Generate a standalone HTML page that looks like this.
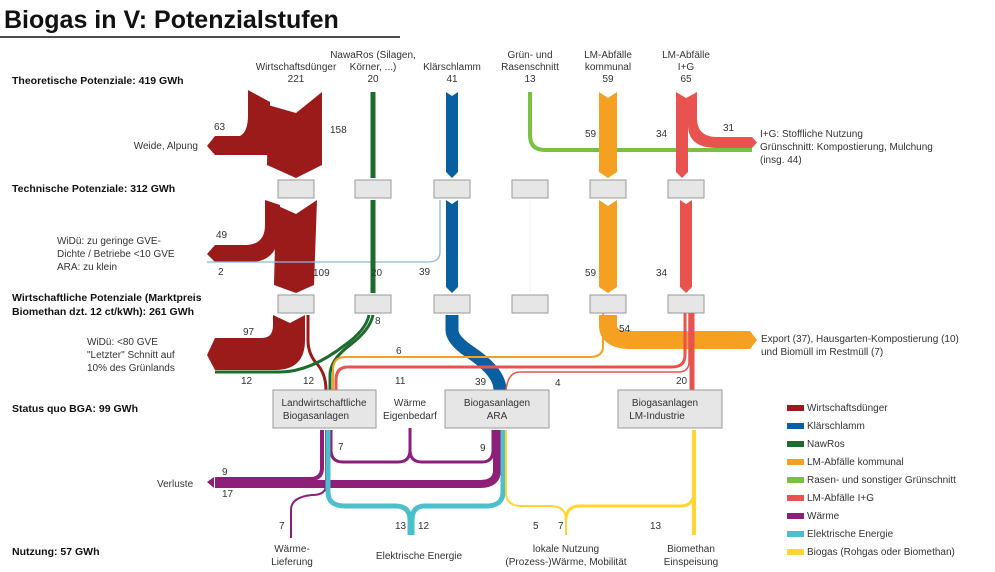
<!DOCTYPE html>
<html><head><meta charset="utf-8"><style>
body{margin:0;background:#fff;}
svg{display:block;font-family:"Liberation Sans",sans-serif;}
.t{font-size:10px;fill:#333;}
.b{font-size:10.5px;font-weight:bold;fill:#111;}
.box{fill:#e6e6e6;stroke:#999;stroke-width:1;}
.f{fill:none;stroke-linecap:butt;}
</style></head><body>
<svg width="995" height="572" viewBox="0 0 995 572" xmlns="http://www.w3.org/2000/svg">
<text x="4" y="28" style="font-size:25px;font-weight:bold;fill:#111">Biogas in V: Potenzialstufen</text>
<line x1="0" y1="37" x2="400" y2="37" stroke="#111" stroke-width="1.5"/>

<text class="b" x="12" y="84">Theoretische Potenziale: 419 GWh</text>
<text class="b" x="12" y="192">Technische Potenziale: 312 GWh</text>
<text class="b" x="12" y="301">Wirtschaftliche Potenziale (Marktpreis</text>
<text class="b" x="12" y="315">Biomethan dzt. 12 ct/kWh): 261 GWh</text>
<text class="b" x="12" y="412">Status quo BGA: 99 GWh</text>
<text class="b" x="12" y="555">Nutzung: 57 GWh</text>

<g class="t" text-anchor="middle">
<text x="296" y="70">Wirtschaftsdünger</text><text x="296" y="82">221</text>
<text x="373" y="58">NawaRos (Silagen,</text><text x="373" y="70">Körner, ...)</text><text x="373" y="82">20</text>
<text x="452" y="70">Klärschlamm</text><text x="452" y="82">41</text>
<text x="530" y="58">Grün- und</text><text x="530" y="70">Rasenschnitt</text><text x="530" y="82">13</text>
<text x="608" y="58">LM-Abfälle</text><text x="608" y="70">kommunal</text><text x="608" y="82">59</text>
<text x="686" y="58">LM-Abfälle</text><text x="686" y="70">I+G</text><text x="686" y="82">65</text>
</g>

<path d="M248 90 L270 102 L270 155 L215 155 L207 146 L215 136 L240 136 Q248 132 248 115 Z" fill="#9b1b1b"/>
<path d="M268 105 L296 113 L322 92 L322 165 L296 178 L267 165 Z" fill="#9b1b1b"/>
<path d="M373 92 V178" class="f" stroke="#1e6b2e" stroke-width="5"/>
<path d="M446 92 L452 96 L458 92 V172 L452 178 L446 172 Z" fill="#0a5fa0"/>
<path d="M530 92 V135 Q530 150 545 150 H752" class="f" stroke="#7ac143" stroke-width="4"/>
<path d="M599 92 L608 98 L617 92 V172 L608 178 L599 172 Z" fill="#f5a020"/>
<path d="M676 92 L686 98 L688 97 V172 L682 178 L676 172 Z" fill="#e8534f"/>
<path d="M688 97 L697 92 V118 Q697 137 717 137 H752 L757 142.5 L752 148 H717 Q688 148 688 125 Z" fill="#e8534f"/>

<g class="box">
<rect x="278" y="180" width="36" height="18"/><rect x="355" y="180" width="36" height="18"/><rect x="434" y="180" width="36" height="18"/><rect x="512" y="180" width="36" height="18"/><rect x="590" y="180" width="36" height="18"/><rect x="668" y="180" width="36" height="18"/>
<rect x="278" y="295" width="36" height="18"/><rect x="355" y="295" width="36" height="18"/><rect x="434" y="295" width="36" height="18"/><rect x="512" y="295" width="36" height="18"/><rect x="590" y="295" width="36" height="18"/><rect x="668" y="295" width="36" height="18"/>
</g>

<path d="M265 200 L280 205 L280 230 Q278 262 250 262 L215 262 L207 254 L215 245 L245 245 Q265 245 265 225 Z" fill="#9b1b1b"/>
<path d="M276 205 L296 214 L317 200 L314 285 L296 293 L274 285 Z" fill="#9b1b1b"/>
<path d="M440 200 V252 Q440 262 428 262 H207" class="f" stroke="#8fb9d4" stroke-width="1.3"/>
<path d="M373 200 V293" class="f" stroke="#1e6b2e" stroke-width="5"/>
<path d="M446 200 L452 204 L458 200 V287 L452 293 L446 287 Z" fill="#0a5fa0"/>
<path d="M530 200 V293" class="f" stroke="#f2f2f2" stroke-width="1"/>
<path d="M599 200 L608 206 L617 200 V287 L608 293 L599 287 Z" fill="#f5a020"/>
<path d="M680 200 L686 204 L692 200 V287 L686 293 L680 287 Z" fill="#e8534f"/>

<path d="M273 315 L290 323 L305 315 V340 Q305 370 275 370 L215 370 L207 355 L215 338 L262 338 Q273 338 273 325 Z" fill="#9b1b1b"/>
<path d="M308 315 V340 Q308 355 318 365 Q326 375 326 390" class="f" stroke="#9b1b1b" stroke-width="3"/>
<path d="M369 315 Q366 330 345 345 Q310 372 280 372 H215" class="f" stroke="#1e6b2e" stroke-width="3"/>
<path d="M373 315 Q370 330 350 345 Q330 360 330 375 V390" class="f" stroke="#1e6b2e" stroke-width="3"/>
<path d="M452 315 V330 Q452 340 470 352 Q500 372 500 390" class="f" stroke="#0a5fa0" stroke-width="13"/>
<path d="M603 313 V346 Q603 357 590 357 H345 Q333 357 333 370 V390" class="f" stroke="#f5a020" stroke-width="2"/>
<path d="M608 315 V325 Q608 340 630 340 H750" class="f" stroke="#f5a020" stroke-width="18"/>
<path d="M750 331 L757 340 L750 349 Z" fill="#f5a020"/>
<path d="M685 313 V355 Q685 367 672 367 H348 Q336 367 336 380 V390" class="f" stroke="#e8534f" stroke-width="3"/>
<path d="M689 313 V362 Q689 372 678 372 H520 Q508 372 506 390" class="f" stroke="#e8534f" stroke-width="1.5"/>
<path d="M692 313 V392" class="f" stroke="#e8534f" stroke-width="5"/>

<g class="box">
<rect x="273" y="390" width="103" height="38"/><rect x="445" y="390" width="104" height="38"/><rect x="618" y="390" width="104" height="38"/>
</g>
<g class="t" text-anchor="middle">
<text x="324" y="406">Landwirtschaftliche</text><text x="316" y="419">Biogasanlagen</text>
<text x="497" y="406">Biogasanlagen</text><text x="497" y="419">ARA</text>
<text x="665" y="406">Biogasanlagen</text><text x="657" y="419">LM-Industrie</text>
<text x="410" y="406">Wärme</text><text x="410" y="419">Eigenbedarf</text>
</g>

<path d="M410 428 V450 Q410 462 422 462 H482 Q493 462 493 450 V430" class="f" stroke="#8e1f78" stroke-width="3"/>
<path d="M331 430 V450 Q331 462 343 462 H398 Q410 462 410 450" class="f" stroke="#8e1f78" stroke-width="3"/>
<path d="M322 430 V468 Q322 479 310 479 H215" class="f" stroke="#8e1f78" stroke-width="4"/>
<path d="M497 430 V470 Q497 484 480 484 H215" class="f" stroke="#8e1f78" stroke-width="8"/>
<path d="M207 482 L214 477 V488 Z" fill="#8e1f78"/>
<path d="M326 430 V485 Q326 495 312 495 Q291 497 291 510 V538" class="f" stroke="#8e1f78" stroke-width="2"/>
<path d="M328 430 V492 Q328 506 345 506 H395 Q410 506 410 520 V535" class="f" stroke="#4bbfcc" stroke-width="5"/>
<path d="M503 430 V492 Q503 506 486 506 H425 Q412 506 412 520 V535" class="f" stroke="#4bbfcc" stroke-width="5"/>
<path d="M506 430 V492 Q506 506 521 506 H550 Q566 506 566 520 V535" class="f" stroke="#ffd531" stroke-width="2"/>
<path d="M694 430 V492 Q694 506 680 506 H580 Q566 506 566 520" class="f" stroke="#ffd531" stroke-width="3"/>
<path d="M694 430 V535" class="f" stroke="#ffd531" stroke-width="4"/>

<g class="t">
<text x="214" y="130">63</text><text x="330" y="133">158</text>
<text x="585" y="137">59</text><text x="656" y="137">34</text><text x="723" y="131">31</text>
<text x="216" y="238">49</text><text x="218" y="275">2</text><text x="313" y="276">109</text><text x="371" y="276">20</text><text x="419" y="275">39</text><text x="585" y="276">59</text><text x="656" y="276">34</text>
<text x="243" y="335">97</text><text x="375" y="324">8</text><text x="619" y="332">54</text><text x="396" y="354">6</text>
<text x="241" y="384">12</text><text x="303" y="384">12</text><text x="395" y="384">11</text><text x="475" y="385">39</text><text x="555" y="386">4</text><text x="676" y="384">20</text>
<text x="338" y="450">7</text><text x="480" y="451">9</text><text x="222" y="475">9</text><text x="222" y="497">17</text>
<text x="279" y="529">7</text><text x="395" y="529">13</text><text x="418" y="529">12</text><text x="533" y="529">5</text><text x="558" y="529">7</text><text x="650" y="529">13</text>
</g>
<g class="t" text-anchor="end">
<text x="198" y="149">Weide, Alpung</text>
</g>
<g class="t">
<text x="57" y="244">WiDü: zu geringe GVE-</text><text x="57" y="257">Dichte / Betriebe &lt;10 GVE</text><text x="57" y="270">ARA: zu klein</text>
<text x="87" y="345">WiDü: &lt;80 GVE</text><text x="87" y="358">"Letzter" Schnitt auf</text><text x="87" y="371">10% des Grünlands</text>
<text x="157" y="487">Verluste</text>
<text x="760" y="137">I+G: Stoffliche Nutzung</text><text x="760" y="150">Grünschnitt: Kompostierung, Mulchung</text><text x="760" y="163">(insg. 44)</text>
<text x="761" y="342">Export (37), Hausgarten-Kompostierung (10)</text><text x="761" y="355">und Biomüll im Restmüll (7)</text>
</g>
<g class="t" text-anchor="middle">
<text x="292" y="552">Wärme-</text><text x="292" y="565">Lieferung</text>
<text x="419" y="559">Elektrische Energie</text>
<text x="566" y="552">lokale Nutzung</text><text x="566" y="565">(Prozess-)Wärme, Mobilität</text>
<text x="691" y="552">Biomethan</text><text x="691" y="565">Einspeisung</text>
</g>

<g class="t">
<rect x="787" y="405" width="17" height="6" fill="#9b1b1b"/><text x="807" y="411">Wirtschaftsdünger</text>
<rect x="787" y="423" width="17" height="6" fill="#0a5fa0"/><text x="807" y="429">Klärschlamm</text>
<rect x="787" y="441" width="17" height="6" fill="#1e6b2e"/><text x="807" y="447">NawRos</text>
<rect x="787" y="459" width="17" height="6" fill="#f5a020"/><text x="807" y="465">LM-Abfälle kommunal</text>
<rect x="787" y="477" width="17" height="6" fill="#7ac143"/><text x="807" y="483">Rasen- und sonstiger Grünschnitt</text>
<rect x="787" y="495" width="17" height="6" fill="#e8534f"/><text x="807" y="501">LM-Abfälle I+G</text>
<rect x="787" y="513" width="17" height="6" fill="#8e1f78"/><text x="807" y="519">Wärme</text>
<rect x="787" y="531" width="17" height="6" fill="#4bbfcc"/><text x="807" y="537">Elektrische Energie</text>
<rect x="787" y="549" width="17" height="6" fill="#ffd531"/><text x="807" y="555">Biogas (Rohgas oder Biomethan)</text>
</g>
</svg>
</body></html>
